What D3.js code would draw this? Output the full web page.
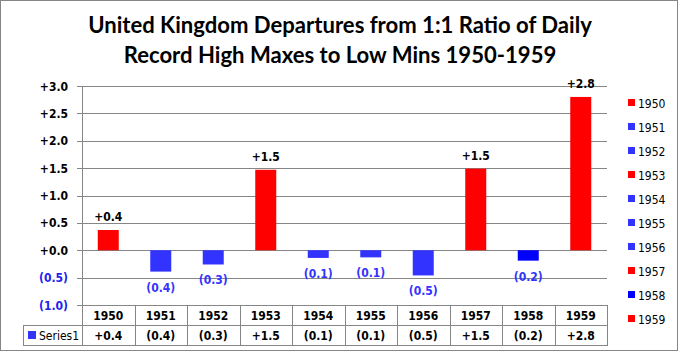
<!DOCTYPE html>
<html>
<head>
<meta charset="utf-8">
<script src="https://cdn.jsdelivr.net/npm/d3@7"></script>
<style>
  body { margin: 0; background: #fff; }
  text { font-family: "DejaVu Sans Condensed", "DejaVu Sans", sans-serif; }
  text.title { font-family: Lato, "Open Sans", sans-serif; }
</style>
</head>
<body>
<svg id="chart" width="679" height="353"></svg>
<script>
const years = ["1950", "1951", "1952", "1953", "1954", "1955", "1956", "1957", "1958", "1959"];
const departures = [0.37, -0.39, -0.26, 1.47, -0.14, -0.13, -0.46, 1.49, -0.19, 2.8];
const barColors = ["#FF0000", "#3333FF", "#3333FF", "#FF0000", "#3333FF", "#3333FF", "#3333FF", "#FF0000", "#0000FF", "#FF0000"];
const yTicks = [-1.0, -0.5, 0.0, 0.5, 1.0, 1.5, 2.0, 2.5, 3.0];
const titleLines = ["United Kingdom Departures from 1:1 Ratio of Daily", "Record High Maxes to Low Mins 1950-1959"];
const seriesName = "Series1";

const svg = d3.select("#chart");
const grey = "#868686";
const fmt = v => v < 0 ? "(" + d3.format(".1f")(-v) + ")" : "+" + d3.format(".1f")(v);

// outer frame
svg.append("rect").attr("x", 0.5).attr("y", 0.5).attr("width", 677).attr("height", 350)
  .attr("fill", "#fff").attr("stroke", grey);

// title, sized to match the original width
const title = svg.append("g");
titleLines.forEach((t, i) => {
  title.append("text").attr("class", "title").attr("x", 340).attr("y", 33 + i * 30)
    .attr("text-anchor", "middle")
    .attr("font-weight", "bold").attr("font-size", 22).attr("fill", "#000").text(t);
});
const firstLen = title.select("text").node().getComputedTextLength();
title.selectAll("text").attr("font-size", 22 * 504 / firstLen);

const x = d3.scaleBand().domain(years).range([82, 607]).padding(0);
const y = d3.scaleLinear().domain([-1, 3]).range([305, 86]);

// gridlines + ticks
svg.append("g").selectAll("line").data(yTicks).join("line")
  .attr("x1", 77).attr("x2", 607)
  .attr("y1", d => Math.round(y(d)) + 0.5).attr("y2", d => Math.round(y(d)) + 0.5)
  .attr("stroke", grey);

svg.append("g").selectAll("text").data(yTicks).join("text")
  .attr("x", 68).attr("y", d => y(d) + 4.5)
  .attr("text-anchor", "end").attr("font-size", 12).attr("font-weight", "bold")
  .attr("fill", d => d < 0 ? "#2222EE" : "#000")
  .text(fmt);

// bars
const bw = x.bandwidth() * 0.4;
svg.append("g").selectAll("rect").data(departures).join("rect")
  .attr("x", (d, i) => x(years[i]) + (x.bandwidth() - bw) / 2)
  .attr("y", d => y(Math.max(0, d)))
  .attr("width", bw)
  .attr("height", d => Math.abs(y(d) - y(0)))
  .attr("fill", (d, i) => barColors[i]);

// data labels
svg.append("g").selectAll("text").data(departures).join("text")
  .attr("x", (d, i) => x(years[i]) + x.bandwidth() / 2)
  .attr("y", d => d >= 0 ? y(d) - 9 : y(d) + 20)
  .attr("text-anchor", "middle").attr("font-size", 12).attr("font-weight", "bold")
  .attr("fill", d => d < 0 ? "#3333FF" : "#000")
  .text(fmt);

// axis line
svg.append("line").attr("x1", 82.5).attr("x2", 82.5).attr("y1", 86).attr("y2", 345).attr("stroke", grey);

// data table
const table = svg.append("g").attr("stroke", grey);
table.append("line").attr("x1", 23).attr("x2", 607).attr("y1", 325.5).attr("y2", 325.5);
table.append("line").attr("x1", 23).attr("x2", 607).attr("y1", 345.5).attr("y2", 345.5);
table.append("line").attr("x1", 23.5).attr("x2", 23.5).attr("y1", 325).attr("y2", 346);
table.selectAll("line.col").data(years).join("line").attr("class", "col")
  .attr("x1", d => Math.round(x(d) + x.bandwidth()) + 0.5)
  .attr("x2", d => Math.round(x(d) + x.bandwidth()) + 0.5)
  .attr("y1", 305).attr("y2", 346);

svg.append("g").selectAll("text").data(years).join("text")
  .attr("x", d => x(d) + x.bandwidth() / 2).attr("y", 320)
  .attr("text-anchor", "middle").attr("font-size", 12).attr("font-weight", "bold")
  .text(d => d);

svg.append("g").selectAll("text").data(departures).join("text")
  .attr("x", (d, i) => x(years[i]) + x.bandwidth() / 2).attr("y", 340)
  .attr("text-anchor", "middle").attr("font-size", 12).attr("font-weight", "bold")
  .text(fmt);

svg.append("rect").attr("x", 28).attr("y", 331).attr("width", 8).attr("height", 8).attr("fill", "#3333FF");
svg.append("text").attr("x", 39).attr("y", 340).attr("font-size", 12).text(seriesName);

// legend
const legend = svg.append("g").selectAll("g").data(years).join("g")
  .attr("transform", (d, i) => `translate(628, ${103 + i * 24})`);
legend.append("rect").attr("x", 0).attr("y", -4).attr("width", 7).attr("height", 7)
  .attr("fill", (d, i) => barColors[i]);
legend.append("text").attr("x", 10).attr("y", 4.5).attr("font-size", 12).text(d => d);
</script>
</body>
</html>
